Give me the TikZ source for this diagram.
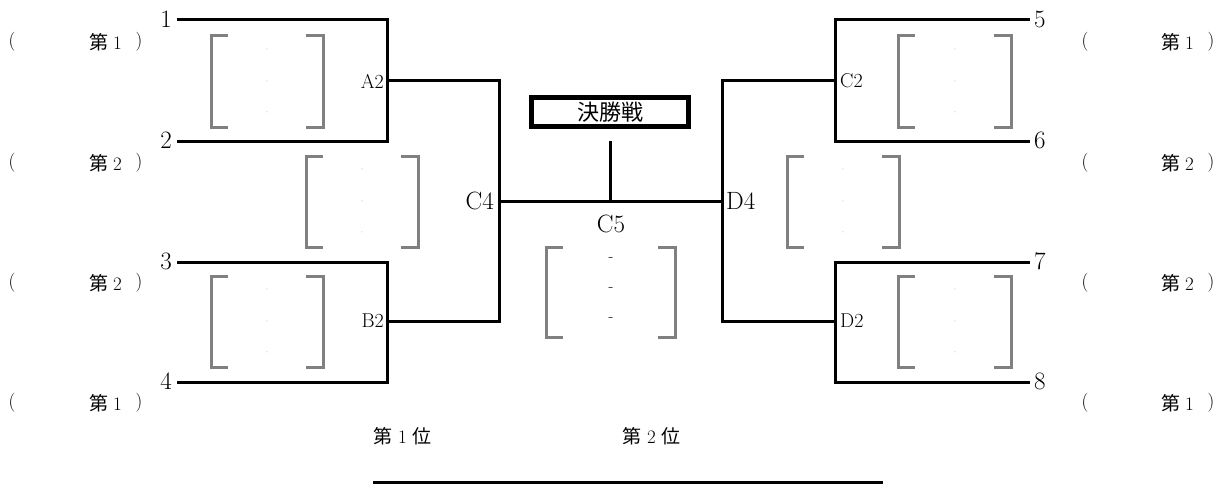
\documentclass[tikz,border=0pt]{standalone}
\usepackage{fontspec}
\newfontfamily\cjk{Noto Sans CJK JP}
\tikzset{
  wire/.style={line width=3pt, line cap=rect},
  gbr/.style={line width=3pt, draw=black!50},
  big/.style={font=\fontsize{25}{25}\selectfont, inner sep=0pt},
  small/.style={font=\fontsize{19}{19}\selectfont, inner sep=0pt},
  lab/.style={font=\fontsize{20}{20}\selectfont, inner sep=0pt},
  tinydot/.style={font=\fontsize{5}{5}\selectfont, text=black!35, inner sep=0pt},
  cdash/.style={font=\fontsize{16}{16}\selectfont, inner sep=0pt},
  finalbox/.style={draw, line width=4.5pt, minimum width=157pt, minimum height=29pt, inner sep=0pt, font=\fontsize{22}{22}\selectfont\cjk}
}
\newcommand\gbracket[4]{%
  \draw[gbr] (#1+17,#3) -- (#1,#3) -- (#1,#4) -- (#1+17,#4);
  \draw[gbr] (#2-17,#3) -- (#2,#3) -- (#2,#4) -- (#2-17,#4);
}
\newcommand\gdots[3]{%
  \node[tinydot] at (#1,#2+14) {-};
  \node[tinydot] at (#1,#2/2+#3/2) {-};
  \node[tinydot] at (#1,#3-14) {-};
}
\begin{document}
\begin{tikzpicture}[x=1pt,y=-1pt]
\useasboundingbox (0,0) rectangle (1222,484);
% end points
\coordinate (e1) at (178,20);
\coordinate (e2) at (178,141);
\coordinate (e3) at (178,262);
\coordinate (e4) at (178,382);
\coordinate (e5) at (1028,20);
\coordinate (e6) at (1028,141);
\coordinate (e7) at (1028,262);
\coordinate (e8) at (1028,382);
\coordinate (a1) at (387,20);
\coordinate (a2) at (387,141);
\coordinate (a) at (387,81);
\coordinate (b1) at (387,262);
\coordinate (b2) at (387,382);
\coordinate (b) at (387,321);
\coordinate (c1) at (835,20);
\coordinate (c2) at (835,141);
\coordinate (c) at (835,81);
\coordinate (d1) at (835,262);
\coordinate (d2) at (835,382);
\coordinate (d) at (835,321);
\coordinate (L1) at (499,81);
\coordinate (L2) at (499,321);
\coordinate (L) at (499,201);
\coordinate (R1) at (722,81);
\coordinate (R2) at (722,321);
\coordinate (R) at (722,201);
\coordinate (M) at (610,201);
\coordinate (S) at (610,142);

% wires
\draw[wire] (e1) -- (a1) -- (a2) -- (e2);
\draw[wire] (e3) -- (b1) -- (b2) -- (e4);
\draw[wire] (e5) -- (c1) -- (c2) -- (e6);
\draw[wire] (e7) -- (d1) -- (d2) -- (e8);
\draw[wire] (a) -- (L1) -- (L2) -- (b);
\draw[wire] (c) -- (R1) -- (R2) -- (d);
\draw[wire] (L) -- (R);
\draw[wire] (M) -- (S);

% final box
\node[finalbox] (fin) at (610,112) {決勝戦};

% seed numbers
\node[big, anchor=east] (n1) at (172,19) {1};
\node[big, anchor=east] (n2) at (172,140) {2};
\node[big, anchor=east] (n3) at (172,261) {3};
\node[big, anchor=east] (n4) at (172,381) {4};
\node[big, anchor=west] (n5) at (1034,19) {5};
\node[big, anchor=west] (n6) at (1034,140) {6};
\node[big, anchor=west] (n7) at (1034,261) {7};
\node[big, anchor=west] (n8) at (1034,381) {8};

% match labels
\node[lab, anchor=east] (la) at (384,81) {A2};
\node[lab, anchor=east] (lb) at (384,321) {B2};
\node[lab, anchor=west] (lc) at (840,81) {C2};
\node[lab, anchor=west] (ld) at (840,321) {D2};
\node[big, anchor=east] (lc4) at (494,201) {C4};
\node[big, anchor=west] (ld4) at (726,201) {D4};
\node[big] (lc5) at (611,224) {C5};

% rank labels left
\foreach \y/\r [count=\i] in {42/1,163/2,283/2,403/1}{
  \node[small] (lp\i) at (12,\y) {(};
  \node[small, anchor=west] (lr\i) at (89,\y) {{\cjk 第}\hspace{5pt}\r};
  \node[small] (lq\i) at (139,\y) {)};
}
% rank labels right
\foreach \y/\r [count=\i] in {42/1,163/2,283/2,403/1}{
  \node[small] (rp\i) at (1085,\y) {(};
  \node[small, anchor=west] (rr\i) at (1161,\y) {{\cjk 第}\hspace{5pt}\r};
  \node[small] (rq\i) at (1211,\y) {)};
}

% gray brackets
\gbracket{211}{323}{36}{127}
\gdots{267}{36}{127}
\gbracket{306}{418}{156}{247}
\gdots{362}{156}{247}
\gbracket{211}{323}{276}{367}
\gdots{267}{276}{367}
\gbracket{898}{1011}{36}{127}
\gdots{955}{36}{127}
\gbracket{787}{899}{156}{247}
\gdots{843}{156}{247}
\gbracket{898}{1011}{276}{367}
\gdots{955}{276}{367}
\gbracket{546}{675}{247}{337}
\node[cdash] (cd1) at (611,260) {-};
\node[cdash] (cd2) at (611,290) {-};
\node[cdash] (cd3) at (611,320) {-};

% bottom
\node[small, anchor=west] (w1) at (373,436) {{\cjk 第}\hspace{6pt}1\hspace{6pt}{\cjk 位}};
\node[small, anchor=west] (w2) at (622,436) {{\cjk 第}\hspace{6pt}2\hspace{6pt}{\cjk 位}};
\coordinate (bl) at (373,482);
\coordinate (br) at (883,482);
\draw[wire, line cap=butt] (bl) -- (br);
\end{tikzpicture}
\end{document}
